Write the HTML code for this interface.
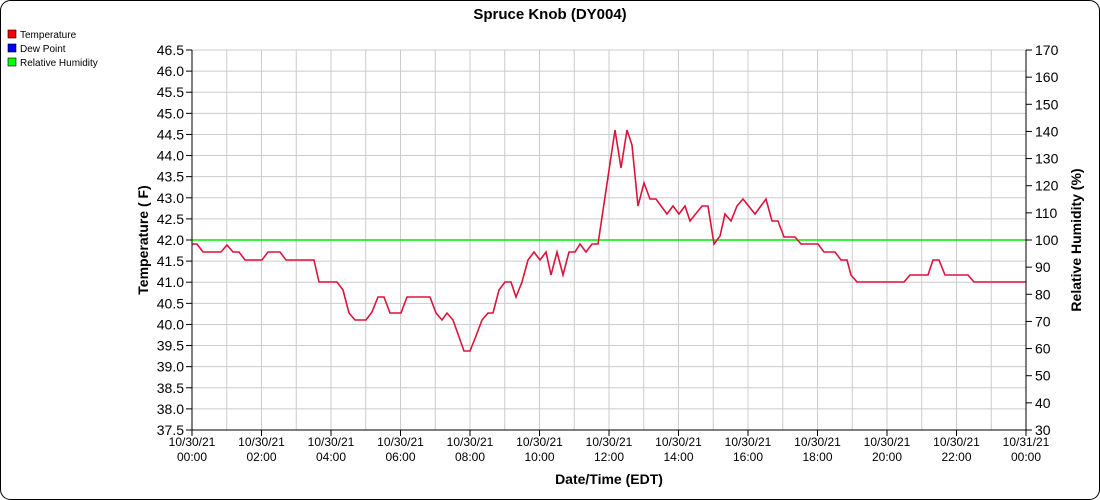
<!DOCTYPE html>
<html><head><meta charset="utf-8"><style>
body{margin:0;background:#fff;}
svg{display:block;font-family:"Liberation Sans",sans-serif;}
</style></head><body>
<svg id="s" width="1100" height="500" xmlns="http://www.w3.org/2000/svg">
<rect x="0.5" y="0.5" width="1099" height="499" rx="10" fill="#fff" stroke="#000"/>
<text x="550" y="19" text-anchor="middle" font-size="15" font-weight="bold">Spruce Knob (DY004)</text>
<rect x="8" y="30" width="8" height="8" fill="#f00" stroke="#000" stroke-width="0.6"/><text x="20" y="38" font-size="10">Temperature</text>
<rect x="8" y="44" width="8" height="8" fill="#00f" stroke="#000" stroke-width="0.6"/><text x="20" y="52" font-size="10">Dew Point</text>
<rect x="8" y="58" width="8" height="8" fill="#0f0" stroke="#000" stroke-width="0.6"/><text x="20" y="66" font-size="10">Relative Humidity</text>
<g id="g"></g>
<line x1="192" y1="240" x2="1026" y2="240" stroke="#00ee00" stroke-width="1.5"/>
<polyline fill="none" stroke="#dc143c" stroke-width="1.6" points="192,244 197,244 203,252 221,252 227,245 233,252 239,252 245,260 262,260 268,252 280,252 286,260 314,260 319,282 337,282 343,290 349,313 355,320 366,320 372,312 378,297 384,297 390,313 401,313 407,297 430,297 436,313 442,320 447,313 453,320 464,351 470,351 476,336 482,320 488,313 493,313 499,290 505,282 511,282 516,297 522,282 528,260 534,252 540,260 546,252 551,275 557,252 563,275 569,252 575,252 580,244 586,252 592,244 598,244 615,130 621,168 627,130 632,145 638,206 644,183 650,199 656,199 667,214 673,206 679,214 685,206 690,221 702,206 708,206 714,244 720,236 725,214 731,221 737,206 743,199 755,214 766,199 772,221 778,221 784,237 795,237 801,244 818,244 824,252 835,252 841,260 847,260 851,275 857,282 904,282 910,275 928,275 933,260 939,260 945,275 968,275 974,282 1026,282"/>
<line x1="192" y1="50" x2="192" y2="430" stroke="#000"/>
<line x1="1026" y1="50" x2="1026" y2="430" stroke="#000"/>
<line x1="192" y1="430" x2="1026" y2="430" stroke="#000"/>
<text transform="translate(148,240) rotate(-90)" text-anchor="middle" font-size="14" font-weight="bold">Temperature ( F)</text>
<text transform="translate(1081,240) rotate(-90)" text-anchor="middle" font-size="14" font-weight="bold">Relative Humidity (%)</text>
<text x="609" y="484" text-anchor="middle" font-size="14" font-weight="bold">Date/Time (EDT)</text>
</svg>
<script>
var g=document.getElementById('g'),h='';
for(var i=0;i<=18;i++){var y=430-i*380/18;
h+='<line x1="192" x2="1026" y1="'+y+'" y2="'+y+'" stroke="#ccc"/>';
h+='<line x1="186" x2="192" y1="'+y+'" y2="'+y+'" stroke="#000"/>';
h+='<text x="184" y="'+(y+5)+'" text-anchor="end" font-size="14">'+(37.5+i*0.5).toFixed(1)+'</text>';}
for(var i=0;i<=14;i++){var y=430-i*380/14;
h+='<line x1="1026" x2="1032" y1="'+y+'" y2="'+y+'" stroke="#000"/>';
h+='<text x="1035" y="'+(y+5)+'" font-size="14">'+(30+i*10)+'</text>';}
for(var i=0;i<=24;i++){var x=192+i*834/24;
h+='<line x1="'+x+'" x2="'+x+'" y1="50" y2="430" stroke="#ccc"/>';
if(i%2==0){h+='<line x1="'+x+'" x2="'+x+'" y1="430" y2="436" stroke="#000"/>';
var d=i==24?'10/31/21':'10/30/21',t=i==24?'00:00':((i<10?'0':'')+i+':00');
h+='<text x="'+x+'" y="446" text-anchor="middle" font-size="12">'+d+'</text><text x="'+x+'" y="461" text-anchor="middle" font-size="12">'+t+'</text>';}}
g.innerHTML=h;
</script>
</body></html>
